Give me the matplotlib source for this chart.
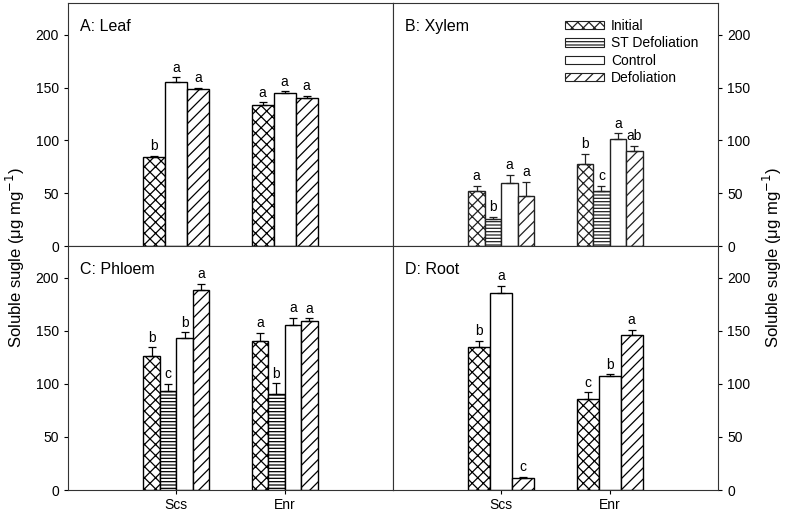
import numpy as np
import matplotlib
matplotlib.use("Agg")
import matplotlib.pyplot as plt
from matplotlib.patches import Patch

plt.rcParams['font.family'] = ['Liberation Sans', 'DejaVu Sans']
plt.rcParams['hatch.linewidth'] = 0.9

groups = ["Scs", "Enr"]
series = ["Initial", "ST Defoliation", "Control", "Defoliation"]
hatches = ["xxx", "-----", "", "///"]

# values per panel: rows=series, cols=groups (nan = not measured)
leaf_mean = [[84, 133], [np.nan, np.nan], [155.5, 144.5], [148.5, 140.5]]
leaf_err = [[1.5, 3], [np.nan, np.nan], [4, 2], [1.5, 1.5]]
leaf_let = [["b", "a"], [None, None], ["a", "a"], ["a", "a"]]

xylem_mean = [[52.5, 78], [25.5, 52.5], [59.5, 101.5], [47, 90]]
xylem_err = [[4.7, 9.5], [2, 4.7], [8, 5.3], [14, 5]]
xylem_let = [["a", "b"], ["b", "c"], ["a", "a"], ["a", "ab"]]

phloem_mean = [[126, 140.5], [93.5, 90.5], [143, 155.5], [188.5, 159.5]]
phloem_err = [[8.5, 7.5], [6.3, 10], [5.7, 6.6], [6, 2.2]]
phloem_let = [["b", "a"], ["c", "b"], ["b", "a"], ["a", "a"]]

root_mean = [[135, 85.5], [np.nan, np.nan], [185.5, 107], [11.7, 146]]
root_err = [[5.4, 6.6], [np.nan, np.nan], [7, 1.9], [1, 5]]
root_let = [["b", "c"], [None, None], ["a", "b"], ["c", "a"]]

panels = [
    ("A: Leaf", leaf_mean, leaf_err, leaf_let),
    ("B: Xylem", xylem_mean, xylem_err, xylem_let),
    ("C: Phloem", phloem_mean, phloem_err, phloem_let),
    ("D: Root", root_mean, root_err, root_let),
]

W, H = 787, 515
fig = plt.figure(figsize=(W / 100, H / 100), dpi=100)
x0, xm, x1 = 68 / W, 393 / W, 718 / W
yt, ym, yb = 1 - 3 / H, 1 - 246 / H, 1 - 490 / H
rects = [
    [x0, ym, xm - x0, yt - ym],
    [xm, ym, x1 - xm, yt - ym],
    [x0, yb, xm - x0, ym - yb],
    [xm, yb, x1 - xm, ym - yb],
]

centers = np.arange(1, len(groups) + 1)
GW = 0.61
fs = 10

for idx, (title, mean, err, let) in enumerate(panels):
    ax = fig.add_axes(rects[idx])
    mean = np.array(mean, dtype=float)
    err = np.array(err, dtype=float)
    present = [i for i in range(len(series)) if not np.all(np.isnan(mean[i]))]
    n = len(present)
    w = GW / n
    ec = '#222222' if idx == 1 else 'black'
    for k, si in enumerate(present):
        xs = centers - GW / 2 + w * (k + 0.5)
        ax.bar(xs, mean[si], width=w, facecolor='white', edgecolor=ec,
               linewidth=1.0, hatch=hatches[si], zorder=2)
        ax.errorbar(xs, mean[si], yerr=[np.zeros_like(err[si]), err[si]],
                    fmt='none', ecolor=ec, elinewidth=0.9, capsize=2.8,
                    capthick=0.9, zorder=3)
        for j in range(len(groups)):
            if let[si][j]:
                ax.text(xs[j], mean[si][j] + err[si][j] + 2.5, let[si][j],
                        ha='center', va='bottom', fontsize=fs)
    ax.set_xlim(0, 3)
    ax.set_ylim(0, 230)
    ax.set_yticks([0, 50, 100, 150, 200])
    ax.text(0.037, 0.935, title, transform=ax.transAxes, fontsize=11.5,
            ha='left', va='top')
    for s in ax.spines.values():
        s.set_linewidth(0.8)
        s.set_color('#333333')
    if idx in (0, 2):
        ax.yaxis.tick_left()
    else:
        ax.yaxis.tick_right()
    ax.tick_params(axis='y', direction='out', length=3, labelsize=fs, width=0.8)
    if idx in (2, 3):
        ax.set_xticks(centers)
        ax.set_xticklabels(groups)
        ax.tick_params(axis='x', direction='out', length=3, labelsize=fs,
                       width=0.8, pad=3)
    else:
        ax.set_xticks([])
    if idx == 1:
        handles = [Patch(facecolor='white', edgecolor='#222222', hatch=hatches[i],
                         linewidth=0.8, label=series[i]) for i in range(len(series))]
        ax.legend(handles=handles, loc='upper left', bbox_to_anchor=(0.53, 0.935),
                  frameon=False, fontsize=10, handlelength=2.8, handleheight=0.55,
                  handletextpad=0.5, labelspacing=0.25, borderaxespad=0, borderpad=0)

ylab = "Soluble sugle (\u03bcg mg$^{-1}$)"
fig.text(0.02, 0.5, ylab, rotation=90, ha='center', va='center', fontsize=12)
fig.text(0.981, 0.5, ylab, rotation=90, ha='center', va='center', fontsize=12)

fig.savefig("out.png", dpi=100)
